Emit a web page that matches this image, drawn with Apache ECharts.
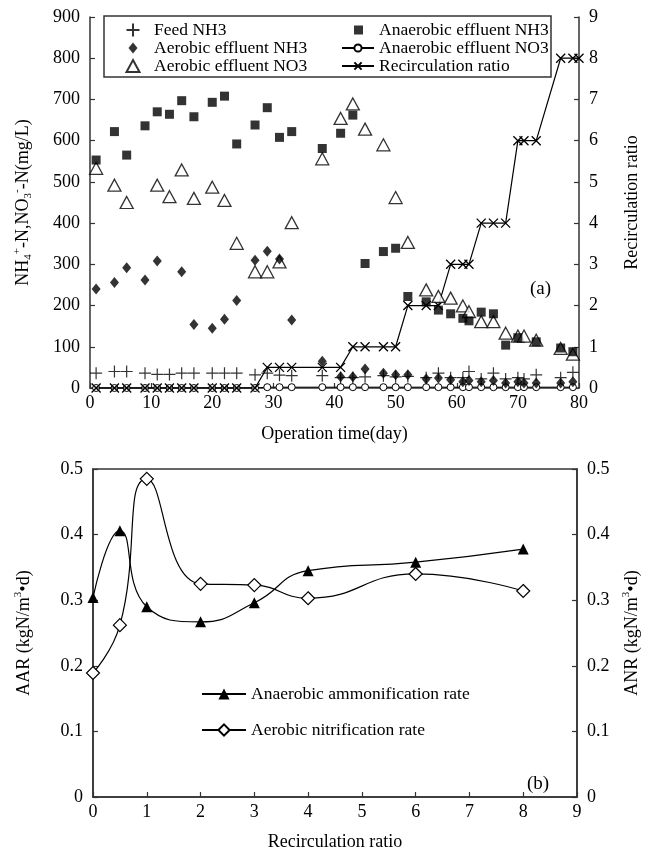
<!DOCTYPE html>
<html><head><meta charset="utf-8">
<script src="https://cdn.jsdelivr.net/npm/echarts@6/dist/echarts.min.js"></script>
<style>html,body{margin:0;padding:0;background:#fff}#c{width:654px;height:853px}</style>
</head><body><div id="c"></div>
<script>
// ---- Panel (a) data ----
const feedDays = [1,4,6,9,11,13,15,17,20,22,24,27,29,31,33,38,41,43,45,48,50,52,55,57,59,61,62,64,66,68,70,71,73,77,79];
const feedNH3  = [36,40,40,36,33,33,36,36,36,36,36,32,36,31,30,30,25,25,27,30,27,28,25,36,25,25,40,22,36,22,25,22,32,25,38];

const aeNH3Days = [1,4,6,9,11,15,17,20,22,24,27,29,31,33,38,41,43,45,48,50,52,55,57,59,61,62,64,66,68,70,71,73,77,79];
const aeNH3     = [240,256,292,262,308,282,154,145,167,212,310,332,313,165,65,27,27,46,36,32,32,22,24,20,15,18,15,18,12,15,12,12,12,15];

const aeNO3Days = [1,4,6,11,13,15,17,20,22,24,27,29,31,33,38,41,43,45,48,50,52,55,57,59,61,62,64,66,68,70,71,73,77,79];
const aeNO3     = [533,492,450,492,464,529,460,487,455,351,282,282,306,401,556,654,689,628,590,462,353,238,222,218,199,185,161,161,133,126,126,116,96,82];

const anNH3Days = [1,4,6,9,11,13,15,17,20,22,24,27,29,31,33,38,41,43,45,48,50,52,55,57,59,61,62,64,66,68,70,73,77,79];
const anNH3     = [553,622,565,636,670,664,697,658,693,708,592,638,680,608,622,581,618,662,302,331,339,222,209,189,180,169,163,184,180,104,122,112,97,88];

const anNO3Days = [1,4,6,9,11,13,15,17,20,22,24,27,29,31,33,38,41,43,45,48,50,52,55,57,59,61,62,64,66,68,70,71,73,77,79];
const anNO3     = [0,0,0,0,0,0,0,0,0,0,0,0,2,2,2,2,2,2,2,2,2,2,2,2,2,2,2,2,2,2,2,2,2,2,2];

const recDays   = [1,4,6,9,11,13,15,17,20,22,24,27,29,31,33,38,41,43,45,48,50,52,55,57,59,61,62,64,66,68,70,71,73,77,79,80];
const recRatio  = [0,0,0,0,0,0,0,0,0,0,0,0,0.5,0.5,0.5,0.5,0.5,1,1,1,1,2,2,2,3,3,3,4,4,4,6,6,6,8,8,8];

// ---- Panel (b) data ----
const ratioX = [0,0.5,1,2,3,4,6,8];
const aarVals = [0.304,0.406,0.290,0.267,0.296,0.345,0.358,0.378];
const anrVals = [0.189,0.262,0.485,0.325,0.323,0.303,0.340,0.314];

const F = 'Liberation Serif';
const pair = (xs, ys) => xs.map((x, i) => [x, ys[i]]);
const PLUS = 'path://M5,0L5,10M0,5L10,5';
const CROSS = 'path://M0,0L10,10M10,0L0,10';
const DIAM = 'path://M4.5,0L9,5.5L4.5,11L0,5.5Z';
const TRI = 'path://M6.5,0L13,12L0,12Z';
const SQ = 'path://M0,0H9V9H0Z';
// legend icons with fixed extents (icon box 32 x 14 / 32 x 9)
const L_PLUS = 'path://M0,0M32,14M16,0.5V13.5M9.5,7H22.5';
const L_DIAM = 'path://M0,0M32,14M16,1.5L20.5,7L16,12.5L11.5,7Z';
const L_TRI  = 'path://M0,0M32,14M16,1L22.5,13L9.5,13Z';
const L_SQ   = 'path://M0,0M32,9M12,0H21V9H12Z';
const AX = '#333';

function xAx(gi, min, max, iv, name, gap) {
  return {gridIndex: gi, type: 'value', min, max, interval: iv, name, nameLocation: 'middle', nameGap: gap,
    nameTextStyle: {fontSize: 18, fontFamily: F, color: '#000'},
    axisLine: {show: true, onZero: false, lineStyle: {color: AX, width: 1.5}},
    axisTick: {show: true, inside: true, length: 5, lineStyle: {color: AX, width: 1.2}},
    axisLabel: {fontSize: 18, fontFamily: F, color: '#000', margin: 6},
    splitLine: {show: false}};
}
function yAx(gi, pos, min, max, iv, name, gap, rich, fmt) {
  return {gridIndex: gi, type: 'value', position: pos, min, max, interval: iv, name, nameLocation: 'middle', nameGap: gap,
    nameRotate: 90,
    nameTextStyle: {fontSize: 18, fontFamily: F, color: '#000', rich: rich},
    axisLine: {show: true, onZero: false, lineStyle: {color: AX, width: 1.5}},
    axisTick: {show: true, inside: true, length: 5, lineStyle: {color: AX, width: 1.2}},
    axisLabel: {fontSize: 18, fontFamily: F, color: '#000', margin: 10, formatter: fmt},
    splitLine: {show: false}};
}
const richN = {
  a: {fontSize: 18, fontFamily: F, color: '#000', lineHeight: 22},
  s: {fontSize: 11, fontFamily: F, color: '#000', lineHeight: 11, verticalAlign: 'bottom'},
  p: {fontSize: 11, fontFamily: F, color: '#000', lineHeight: 11, verticalAlign: 'top'}
};
const fmt1 = v => (v === 0 ? '0' : v.toFixed(1));
const legText = {fontSize: 17.5, fontFamily: F, color: '#000', lineHeight: 17};

const chart = echarts.init(document.getElementById('c'));
chart.setOption({
  animation: false,
  backgroundColor: '#fff',
  textStyle: {fontFamily: F, color: '#000'},
  grid: [
    {left: 90, right: 75, top: 17, bottom: 465, show: false},
    {left: 93, right: 77, top: 469, bottom: 56, show: true, borderColor: AX, borderWidth: 1.5}
  ],
  xAxis: [
    xAx(0, 0, 80, 10, 'Operation time(day)', 37),
    xAx(1, 0, 9, 1, 'Recirculation ratio', 36)
  ],
  yAxis: [
    yAx(0, 'left', 0, 900, 100, '{a|NH}{s|4}{p|+}{a|-N,NO}{s|3}{p|-}{a|-N(mg/L)}', 56, richN),
    yAx(0, 'right', 0, 9, 1, 'Recirculation ratio', 44),
    yAx(1, 'left', 0, 0.5, 0.1, '{a|AAR (kgN/m}{p|3}{a|•d)}', 58, richN, fmt1),
    yAx(1, 'right', 0, 0.5, 0.1, '{a|ANR (kgN/m}{p|3}{a|•d)}', 44, richN, fmt1)
  ],
  legend: [
    {orient: 'vertical', left: 111, top: 16, itemWidth: 32, itemHeight: 14, itemGap: 0,
     textStyle: legText,
     data: [{name: 'Feed NH3', icon: L_PLUS}, {name: 'Aerobic effluent NH3', icon: L_DIAM}, {name: 'Aerobic effluent NO3', icon: L_TRI}]},
    {orient: 'vertical', left: 336, top: 16, itemWidth: 32, itemHeight: 9, itemGap: 0,
     textStyle: legText,
     data: [{name: 'Anaerobic effluent NH3', icon: L_SQ}, 'Anaerobic effluent NO3', 'Recirculation ratio']},
    {orient: 'vertical', left: 196, top: 680, itemWidth: 44, itemHeight: 14, itemGap: 18,
     textStyle: legText,
     data: ['Anaerobic ammonification rate', 'Aerobic nitrification rate']}
  ],
  graphic: [
    {type: 'rect', shape: {x: 104, y: 16, width: 447, height: 61}, style: {fill: 'none', stroke: AX, lineWidth: 1.5}},
    {type: 'text', x: 530, y: 289, style: {text: '(a)', fontSize: 19, fontFamily: F, fill: '#000', verticalAlign: 'middle'}},
    {type: 'text', x: 527, y: 784, style: {text: '(b)', fontSize: 19, fontFamily: F, fill: '#000', verticalAlign: 'middle'}}
  ],
  series: [
    {name: 'Anaerobic effluent NO3', type: 'line', xAxisIndex: 0, yAxisIndex: 0, data: pair(anNO3Days, anNO3),
     symbol: 'circle', symbolSize: 7, z: 2,
     lineStyle: {color: '#000', width: 1}, itemStyle: {color: '#fff', borderColor: '#000', borderWidth: 1}},
    {name: 'Recirculation ratio', type: 'line', xAxisIndex: 0, yAxisIndex: 1, data: pair(recDays, recRatio),
     symbol: CROSS, symbolSize: 9, z: 3, clip: false,
     lineStyle: {color: '#000', width: 1.2}, itemStyle: {color: '#000', borderColor: '#000', borderWidth: 1.3}},
    {name: 'Feed NH3', type: 'scatter', xAxisIndex: 0, yAxisIndex: 0, data: pair(feedDays, feedNH3),
     symbol: PLUS, symbolSize: 12, symbolKeepAspect: true, z: 4,
     itemStyle: {color: '#000', borderColor: '#000', borderWidth: 1.2}},
    {name: 'Aerobic effluent NO3', type: 'scatter', xAxisIndex: 0, yAxisIndex: 0, data: pair(aeNO3Days, aeNO3),
     symbol: TRI, symbolSize: [13, 12], z: 4,
     itemStyle: {color: '#fff', borderColor: '#000', borderWidth: 1.3}},
    {name: 'Anaerobic effluent NH3', type: 'scatter', xAxisIndex: 0, yAxisIndex: 0, data: pair(anNH3Days, anNH3),
     symbol: SQ, symbolSize: 9, z: 5, itemStyle: {color: '#000'}},
    {name: 'Aerobic effluent NH3', type: 'scatter', xAxisIndex: 0, yAxisIndex: 0, data: pair(aeNH3Days, aeNH3),
     symbol: DIAM, symbolSize: [9, 11], z: 6, itemStyle: {color: '#000'}},
    {name: 'Anaerobic ammonification rate', type: 'line', xAxisIndex: 1, yAxisIndex: 2, data: pair(ratioX, aarVals),
     smooth: 0.5, symbol: 'triangle', symbolSize: 11, z: 3,
     lineStyle: {color: '#000', width: 1.2}, itemStyle: {color: '#000'}},
    {name: 'Aerobic nitrification rate', type: 'line', xAxisIndex: 1, yAxisIndex: 2, data: pair(ratioX, anrVals),
     smooth: 0.5, symbol: 'diamond', symbolSize: 13, z: 4,
     lineStyle: {color: '#000', width: 1.2}, itemStyle: {color: '#fff', borderColor: '#000', borderWidth: 1.2}}
  ]
});
</script></body></html>
